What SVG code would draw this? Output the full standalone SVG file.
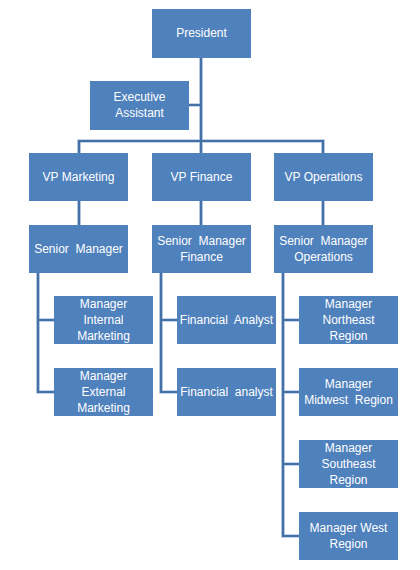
<svg xmlns="http://www.w3.org/2000/svg" width="420" height="570" viewBox="0 0 420 570">
<style>
.b{fill:#4F81BD}
.t{fill:#fff;font-family:"Liberation Sans",Arial,sans-serif;font-size:12px;text-anchor:middle;white-space:pre}
.c{fill:none;stroke:#4470A8;stroke-width:2.2}
.s{fill:none;stroke:#B4C6DE;stroke-width:3.6}
</style>
<rect width="420" height="570" fill="#fff"/>
<g id="connectors">
<path class="s" d="M201 58V141M189 105H201M79 153V141H323V153M201 141V153M79 201V225M201 201V225M323 201V225M38 273V392H54M38 320H54M161 273V392H177M161 320H177M283 273V536H299M283 320H299M283 392H299M283 464H299"/>
<path class="c" d="M201 58V141M189 105H201M79 153V141H323V153M201 141V153M79 201V225M201 201V225M323 201V225M38 273V392H54M38 320H54M161 273V392H177M161 320H177M283 273V536H299M283 320H299M283 392H299M283 464H299"/>
</g>
<g id="president"><rect class="b" x="152" y="9" width="99" height="49"/><text class="t" x="201.5" y="37">President</text></g>
<g id="exec"><rect class="b" x="90" y="81" width="99" height="49"/><text class="t" x="139.5" y="101">Executive</text><text class="t" x="139.5" y="117">Assistant</text></g>
<g id="vpm"><rect class="b" x="29" y="153" width="99" height="48"/><text class="t" x="78.5" y="181">VP Marketing</text></g>
<g id="vpf"><rect class="b" x="152" y="153" width="99" height="48"/><text class="t" x="201.5" y="181">VP Finance</text></g>
<g id="vpo"><rect class="b" x="274" y="153" width="99" height="48"/><text class="t" x="323.5" y="181">VP Operations</text></g>
<g id="smm"><rect class="b" x="29" y="225" width="99" height="48"/><text class="t" x="78.5" y="253">Senior  Manager</text></g>
<g id="smf"><rect class="b" x="152" y="225" width="99" height="48"/><text class="t" x="201.5" y="245">Senior  Manager</text><text class="t" x="201.5" y="261">Finance</text></g>
<g id="smo"><rect class="b" x="274" y="225" width="99" height="48"/><text class="t" x="323.5" y="245">Senior  Manager</text><text class="t" x="323.5" y="261">Operations</text></g>
<g id="mim"><rect class="b" x="54" y="296" width="99" height="48"/><text class="t" x="103.5" y="308">Manager</text><text class="t" x="103.5" y="324">Internal</text><text class="t" x="103.5" y="340">Marketing</text></g>
<g id="mem"><rect class="b" x="54" y="368" width="99" height="48"/><text class="t" x="103.5" y="380">Manager</text><text class="t" x="103.5" y="396">External</text><text class="t" x="103.5" y="412">Marketing</text></g>
<g id="fa1"><rect class="b" x="177" y="296" width="99" height="48"/><text class="t" x="226.5" y="324">Financial  Analyst</text></g>
<g id="fa2"><rect class="b" x="177" y="368" width="99" height="48"/><text class="t" x="226.5" y="396">Financial  analyst</text></g>
<g id="mne"><rect class="b" x="299" y="296" width="99" height="48"/><text class="t" x="348.5" y="308">Manager</text><text class="t" x="348.5" y="324">Northeast</text><text class="t" x="348.5" y="340">Region</text></g>
<g id="mmw"><rect class="b" x="299" y="368" width="99" height="48"/><text class="t" x="348.5" y="388">Manager</text><text class="t" x="348.5" y="404">Midwest  Region</text></g>
<g id="mse"><rect class="b" x="299" y="440" width="99" height="48"/><text class="t" x="348.5" y="452">Manager</text><text class="t" x="348.5" y="468">Southeast</text><text class="t" x="348.5" y="484">Region</text></g>
<g id="mw"><rect class="b" x="299" y="512" width="99" height="48"/><text class="t" x="348.5" y="532">Manager West</text><text class="t" x="348.5" y="548">Region</text></g>
</svg>
